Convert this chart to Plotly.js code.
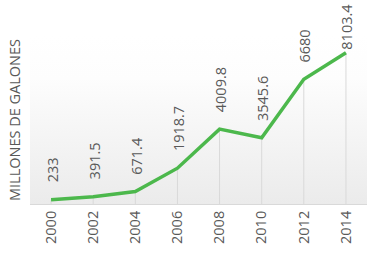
<!DOCTYPE html>
<html><head><meta charset="utf-8">
<script src="https://cdn.plot.ly/plotly-3.0.1.min.js"></script>
<style>html,body{margin:0;padding:0;background:#fff}#c{width:377px;height:256px}</style>
</head><body><div id="c"></div>
<script>
const years = ['2000','2002','2004','2006','2008','2010','2012','2014'];
const values = [233, 391.5, 671.4, 1918.7, 4009.8, 3545.6, 6680, 8103.4];
const valueLabels = ['233','391.5','671.4','1918.7','4009.8','3545.6','6680','8103.4'];

const grad = 'data:image/svg+xml;utf8,' + encodeURIComponent(
 '<svg xmlns="http://www.w3.org/2000/svg" width="10" height="100" preserveAspectRatio="none"><defs><linearGradient id="g" x1="0" y1="0" x2="0" y2="1"><stop offset="0" stop-color="#ffffff"/><stop offset="0.25" stop-color="#fdfdfd"/><stop offset="1" stop-color="#ebebeb"/></linearGradient></defs><rect width="10" height="100" fill="url(#g)"/></svg>');

const trace = {
  x: years, y: values, type: 'scatter', mode: 'lines',
  line: {color: '#4cb84c', width: 3.5},
  error_y: {type: 'data', symmetric: false, array: values.map(() => 0), arrayminus: values,
            color: '#d9d9d9', thickness: 1, width: 0},
  hoverinfo: 'none'
};

const annotations = years.map((yr, i) => ({
  x: i, y: values[i], xref: 'x', yref: 'y', text: valueLabels[i],
  textangle: -90, showarrow: false, xanchor: 'center', yanchor: 'bottom',
  yshift: i === years.length - 1 ? 1 : 15, xshift: 1,
  font: {family: 'Open Sans, sans-serif', size: 14.5, color: '#595959'}
}));

const layout = {
  width: 377, height: 256,
  margin: {l: 30, r: 10, t: 36, b: 52},
  paper_bgcolor: '#ffffff', plot_bgcolor: 'rgba(0,0,0,0)',
  showlegend: false,
  images: [{source: grad, xref: 'paper', yref: 'paper', x: 0, y: 1, sizex: 1, sizey: 1,
            sizing: 'stretch', layer: 'below', xanchor: 'left', yanchor: 'top'}],
  xaxis: {type: 'category', range: [-0.5, 7.5], tickangle: -90, showgrid: false,
          showline: true, linecolor: '#d9d9d9', linewidth: 1, ticks: '', zeroline: false,
          tickfont: {family: 'Open Sans, sans-serif', size: 14.5, color: '#595959'}},
  yaxis: {range: [0, 9000], showgrid: false, zeroline: false, showticklabels: false, ticks: '',
          title: {text: 'MILLONES DE GALONES', standoff: 4,
                  font: {family: 'Open Sans, sans-serif', size: 14.5, color: '#595959'}}},
  annotations: annotations
};
Plotly.newPlot('c', [trace], layout, {displayModeBar: false, staticPlot: true});
</script></body></html>
